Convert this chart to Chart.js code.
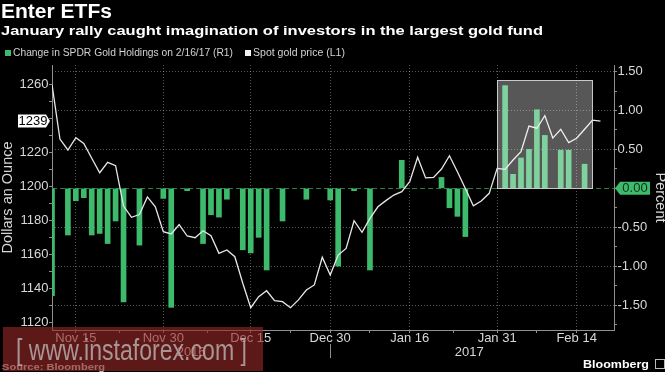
<!DOCTYPE html>
<html>
<head>
<meta charset="utf-8">
<script src="https://cdn.jsdelivr.net/npm/chart.js@4.4.1/dist/chart.umd.min.js"></script>
<style>
  html, body { margin: 0; padding: 0; background: #000; }
  #wrap { position: relative; width: 665px; height: 372px; overflow: hidden; background: #000;
          font-family: 'Liberation Sans', Arial, sans-serif; }
  #chart { position: absolute; left: 0; top: 0; }
  .t { position: absolute; white-space: nowrap; transform-origin: 0 0; }
  #title { left: 1px; top: 1px; font-size: 20px; line-height: 20px; font-weight: bold; color: #fff; }
  #sub { left: 1px; top: 24px; font-size: 13px; line-height: 13px; font-weight: bold; color: #fff; }
  .lg { top: 48px; font-size: 10px; line-height: 10px; color: #d2d2d2; }
  .sq { position: absolute; top: 50px; width: 6px; height: 6px; }
  #src { left: 2px; top: 363px; font-size: 9px; line-height: 9px; font-weight: bold; color: #d0d0d0; }
  #bbg { left: 583px; top: 359px; font-size: 11px; line-height: 11px; font-weight: bold; color: #fff; }
  #ico { position: absolute; left: 655px; top: 359px; width: 8px; height: 8px; border: 1px solid #bbb; }
  #wm { position: absolute; left: 3px; top: 327px; width: 260px; height: 44px; background: rgba(150,38,38,0.62); }
  #wmt { left: 16px; top: 335px; font-size: 30px; line-height: 30px; color: rgba(190,185,185,0.78); }
</style>
</head>
<body>
<div id="wrap">
  <canvas id="chart" width="665" height="372"></canvas>
  <div class="t" id="title">Enter ETFs</div>
  <div class="t" id="sub">January rally caught imagination of investors in the largest gold fund</div>
  <div class="sq" style="left:5px;background:#3dba6c"></div>
  <div class="t lg" id="lg1" style="left:13px">Change in SPDR Gold Holdings on 2/16/17 (R1)</div>
  <div class="sq" style="left:245px;background:#f2f2f2"></div>
  <div class="t lg" id="lg2" style="left:253px">Spot gold price (L1)</div>
  <div class="t" id="src">Source: Bloomberg</div>
  <div class="t" id="bbg">Bloomberg</div>
  <div id="ico"></div>
  <div id="wm"></div>
  <div class="t" id="wmt">[ www.instaforex.com ]</div>
</div>
<script>
// trading days shown on the chart
const dates = [
  '2016-11-10','2016-11-11','2016-11-14','2016-11-15','2016-11-16','2016-11-17','2016-11-18',
  '2016-11-21','2016-11-22','2016-11-23','2016-11-24','2016-11-25','2016-11-28','2016-11-29','2016-11-30',
  '2016-12-01','2016-12-02','2016-12-05','2016-12-06','2016-12-07','2016-12-08','2016-12-09',
  '2016-12-12','2016-12-13','2016-12-14','2016-12-15','2016-12-16','2016-12-19','2016-12-20',
  '2016-12-21','2016-12-22','2016-12-23','2016-12-27','2016-12-28','2016-12-29','2016-12-30',
  '2017-01-03','2017-01-04','2017-01-05','2017-01-06','2017-01-09','2017-01-10','2017-01-11',
  '2017-01-12','2017-01-13','2017-01-16','2017-01-17','2017-01-18','2017-01-19','2017-01-20',
  '2017-01-23','2017-01-24','2017-01-25','2017-01-26','2017-01-27','2017-01-30','2017-01-31',
  '2017-02-01','2017-02-02','2017-02-03','2017-02-06','2017-02-07','2017-02-08','2017-02-09',
  '2017-02-10','2017-02-13','2017-02-14','2017-02-15','2017-02-16','2017-02-17'
];

// spot gold, $/oz (left axis)
const goldPrice = [
  1260, 1228, 1221.6, 1228.8, 1225.5, 1216.7, 1208.2, 1214.3, 1212.4, 1188.6,
  1182, 1183.6, 1194, 1188.2, 1173.5, 1172.2, 1177.7, 1171, 1170, 1174.1,
  1171.2, 1160.8, 1162.8, 1158.8, 1143.2, 1128.8, 1135.3, 1138.8, 1133, 1132.4,
  1128.8, 1133.4, 1139.2, 1142.2, 1158.5, 1148, 1159.8, 1163.7, 1180, 1173.2,
  1181.4, 1188.2, 1191.8, 1195.1, 1197.1, 1203, 1217.3, 1205.2, 1205.5, 1210.4,
  1218.2, 1208.8, 1199, 1188.8, 1191.6, 1196.1, 1210.8, 1210.2, 1215.7, 1220.6,
  1235.7, 1234.4, 1241.8, 1228.6, 1233.8, 1225.9, 1228.5, 1233.8, 1239.2, 1238.6
];

// change in SPDR gold holdings, percent (right axis)
const spdrChange = [
  -1.38, null, -0.60, -0.16, -0.12, -0.60, -0.58, -0.71, -0.42, -1.46,
  null, -0.73, null, null, -0.13, -1.53, null, -0.03, null, -0.71,
  -0.34, -0.37, -0.14, null, -0.79, -0.83, -0.63, -1.05, null, -0.42,
  null, null, -0.14, null, null, -0.15, -1.00, null, -0.03, null,
  -1.05, null, null, null, 0.36, null, null, null, null, 0.14,
  -0.25, -0.36, -0.62, null, null, null, null, 1.32, 0.18, 0.39,
  0.50, 1.01, 0.68, null, 0.49, 0.49, null, 0.31, null, null
];

const xTickDates  = ['2016-11-15','2016-11-30','2016-12-15','2016-12-30','2017-01-16','2017-01-31','2017-02-14'];
const xTickLabels = ['Nov 15','Nov 30','Dec 15','Dec 30','Jan 16','Jan 31','Feb 14'];
const leftTicks   = [1120, 1130, 1140, 1150, 1160, 1170, 1180, 1190, 1200, 1210, 1220, 1230, 1240, 1250, 1260];
const leftLabels  = [1120, 1140, 1160, 1180, 1200, 1220, 1260];
const rightTicks  = [-1.75, -1.5, -1.25, -1, -0.75, -0.5, -0.25, 0, 0.25, 0.5, 0.75, 1, 1.25, 1.5];
const rightLabels = [-1.5, -1, -0.5, 1, 0.5, 1.5];
const yearLabels  = ['2016', '2017'];

// ── COLORS ──────────────────────────────────────────────
const GREEN   = '#3dba6c';
const TXT     = '#d8d8d8';
const AXIS    = '#8f8f8f';
const GRID    = 'rgba(255,255,255,0.34)';
const FONT    = "'Liberation Sans', Arial, sans-serif";

const majorX = xTickDates.map(d => dates.indexOf(d));
const minorX = majorX.slice(1).map((v, i) => (v + majorX[i]) / 2);
const boxFrom = dates.indexOf('2017-01-31');
const boxTo   = dates.indexOf('2017-02-16');

const linePts = goldPrice.map((v, i) => ({ x: i, y: v }));
const barPts  = spdrChange.map((v, i) => ({ x: i, y: v }));

// fit html text widths to the reference
function fit(id, w) {
  const el = document.getElementById(id);
  el.style.transform = 'scaleX(' + (w / el.getBoundingClientRect().width) + ')';
}
fit('title', 111); fit('sub', 542); fit('lg1', 220); fit('lg2', 92);
fit('src', 103); fit('bbg', 66); fit('wmt', 231);

const extras = {
  id: 'extras',
  beforeDatasetsDraw(chart) {
    const { ctx, chartArea: a, scales: { yR } } = chart;
    const y0 = Math.round(yR.getPixelForValue(0)) + 0.5;
    ctx.save();
    ctx.strokeStyle = '#2a7a45';
    ctx.lineWidth = 1;
    ctx.setLineDash([5, 3]);
    ctx.beginPath();
    ctx.moveTo(a.left, y0);
    ctx.lineTo(a.right, y0);
    ctx.stroke();
    ctx.restore();
  },
  afterDatasetsDraw(chart) {
    const { ctx, scales: { x, yR } } = chart;
    const x1 = x.getPixelForValue(boxFrom), x2 = x.getPixelForValue(boxTo);
    const y1 = yR.getPixelForValue(1.39), y2 = yR.getPixelForValue(0);
    ctx.save();
    ctx.fillStyle = 'rgba(255,255,255,0.34)';
    ctx.fillRect(x1, y1, x2 - x1, y2 - y1);
    ctx.strokeStyle = 'rgba(215,215,215,0.9)';
    ctx.lineWidth = 1;
    ctx.strokeRect(Math.round(x1) + 0.5, Math.round(y1) + 0.5, Math.round(x2 - x1), Math.round(y2 - y1));
    ctx.restore();
  },
  afterDraw(chart) {
    const { ctx, chartArea: a, scales: { x, yL, yR } } = chart;
    ctx.save();
    ctx.font = '13px ' + FONT;
    ctx.textBaseline = 'middle';
    ctx.textAlign = 'center';

    // last value tag on the left axis
    const last = goldPrice[goldPrice.length - 1];
    const yv = yL.getPixelForValue(last);
    ctx.fillStyle = '#ffffff';
    ctx.beginPath();
    ctx.moveTo(a.left - 34, yv - 6.5);
    ctx.lineTo(a.left - 6, yv - 6.5);
    ctx.lineTo(a.left - 2, yv);
    ctx.lineTo(a.left - 6, yv + 6.5);
    ctx.lineTo(a.left - 34, yv + 6.5);
    ctx.closePath();
    ctx.fill();
    ctx.fillStyle = '#000';
    ctx.fillText(String(Math.round(last)), a.left - 19, yv + 0.5);

    // zero tag on the right axis
    const y0 = yR.getPixelForValue(0);
    ctx.fillStyle = GREEN;
    ctx.beginPath();
    ctx.moveTo(a.right + 1, y0);
    ctx.lineTo(a.right + 6, y0 - 6.5);
    ctx.lineTo(a.right + 36, y0 - 6.5);
    ctx.lineTo(a.right + 36, y0 + 6.5);
    ctx.lineTo(a.right + 6, y0 + 6.5);
    ctx.closePath();
    ctx.fill();
    ctx.fillStyle = '#10301b';
    ctx.fillText('0.00', a.right + 21, y0 + 0.5);

    // axis titles
    ctx.fillStyle = TXT;
    ctx.font = '14.5px ' + FONT;
    const midY = (a.top + a.bottom) / 2;
    ctx.save();
    ctx.translate(8, midY);
    ctx.rotate(-Math.PI / 2);
    ctx.fillText('Dollars an Ounce', 0, 0);
    ctx.restore();
    ctx.save();
    ctx.translate(660, midY);
    ctx.rotate(Math.PI / 2);
    ctx.fillText('Percent', 0, 0);
    ctx.restore();

    // year row
    ctx.font = '13px ' + FONT;
    const last16 = dates.filter(d => d.startsWith('2016')).length - 1;
    const yrY = a.bottom + 22;
    ctx.fillText(yearLabels[0], x.getPixelForValue(last16 / 2), yrY);
    ctx.fillText(yearLabels[1], x.getPixelForValue((last16 + 1 + dates.length - 1) / 2), yrY);
    ctx.strokeStyle = AXIS;
    ctx.lineWidth = 1;
    const sx = Math.round(x.getPixelForValue(last16)) + 0.5;
    ctx.beginPath();
    ctx.moveTo(sx, a.bottom + 14);
    ctx.lineTo(sx, a.bottom + 28);
    ctx.stroke();
    ctx.restore();
  }
};

new Chart(document.getElementById('chart'), {
  data: {
    datasets: [
      {
        type: 'line',
        data: linePts,
        yAxisID: 'yL',
        borderColor: '#e8e8e8',
        borderWidth: 1.3,
        pointRadius: 0,
        tension: 0
      },
      {
        type: 'bar',
        data: barPts,
        yAxisID: 'yR',
        backgroundColor: GREEN,
        barThickness: 5
      }
    ]
  },
  options: {
    responsive: false,
    animation: false,
    devicePixelRatio: 1,
    layout: { padding: { left: 0, right: 0, top: 65, bottom: 0 } },
    plugins: { legend: { display: false }, tooltip: { enabled: false } },
    scales: {
      x: {
        type: 'linear',
        min: 0,
        max: 70.7,
        bounds: 'data',
        offset: false,
        afterFit: s => { s.height = 42; },
        afterBuildTicks: s => {
          s.ticks = majorX.concat(minorX).sort((p, q) => p - q).map(v => ({ value: v }));
        },
        ticks: {
          autoSkip: false,
          maxRotation: 0,
          color: TXT,
          font: { family: FONT, size: 13, lineHeight: 1 },
          padding: -1,
          callback: v => {
            const k = majorX.indexOf(v);
            return k >= 0 ? xTickLabels[k] : '';
          }
        },
        grid: {
          offset: false,
          color: c => (c.tick && majorX.includes(c.tick.value)) ? GRID : 'rgba(0,0,0,0)',
          tickColor: AXIS,
          tickLength: 3
        },
        border: { color: AXIS, dash: [1, 2] }
      },
      yL: {
        type: 'linear',
        position: 'left',
        min: 1115.7,
        max: 1271.6,
        bounds: 'data',
        afterFit: s => { s.width = 52; },
        afterBuildTicks: s => { s.ticks = leftTicks.map(v => ({ value: v })); },
        ticks: {
          autoSkip: false,
          color: TXT,
          font: { family: FONT, size: 13 },
          padding: 0.5,
          callback: v => leftLabels.includes(v) ? String(v) : ''
        },
        grid: { drawOnChartArea: false, tickColor: AXIS, tickLength: 3 },
        border: { color: AXIS }
      },
      yR: {
        type: 'linear',
        position: 'right',
        min: -1.821,
        max: 1.585,
        bounds: 'data',
        afterFit: s => { s.width = 51; },
        afterBuildTicks: s => { s.ticks = rightTicks.map(v => ({ value: v })); },
        ticks: {
          autoSkip: false,
          color: TXT,
          font: { family: FONT, size: 13 },
          padding: 0.5,
          callback: v => rightLabels.includes(v) ? v.toFixed(2) : ''
        },
        grid: {
          color: c => (c.tick && rightLabels.includes(c.tick.value)) ? GRID : 'rgba(0,0,0,0)',
          tickColor: AXIS,
          tickLength: 3
        },
        border: { color: AXIS, dash: [1, 2] }
      }
    }
  },
  plugins: [extras]
});
</script>
</body>
</html>
